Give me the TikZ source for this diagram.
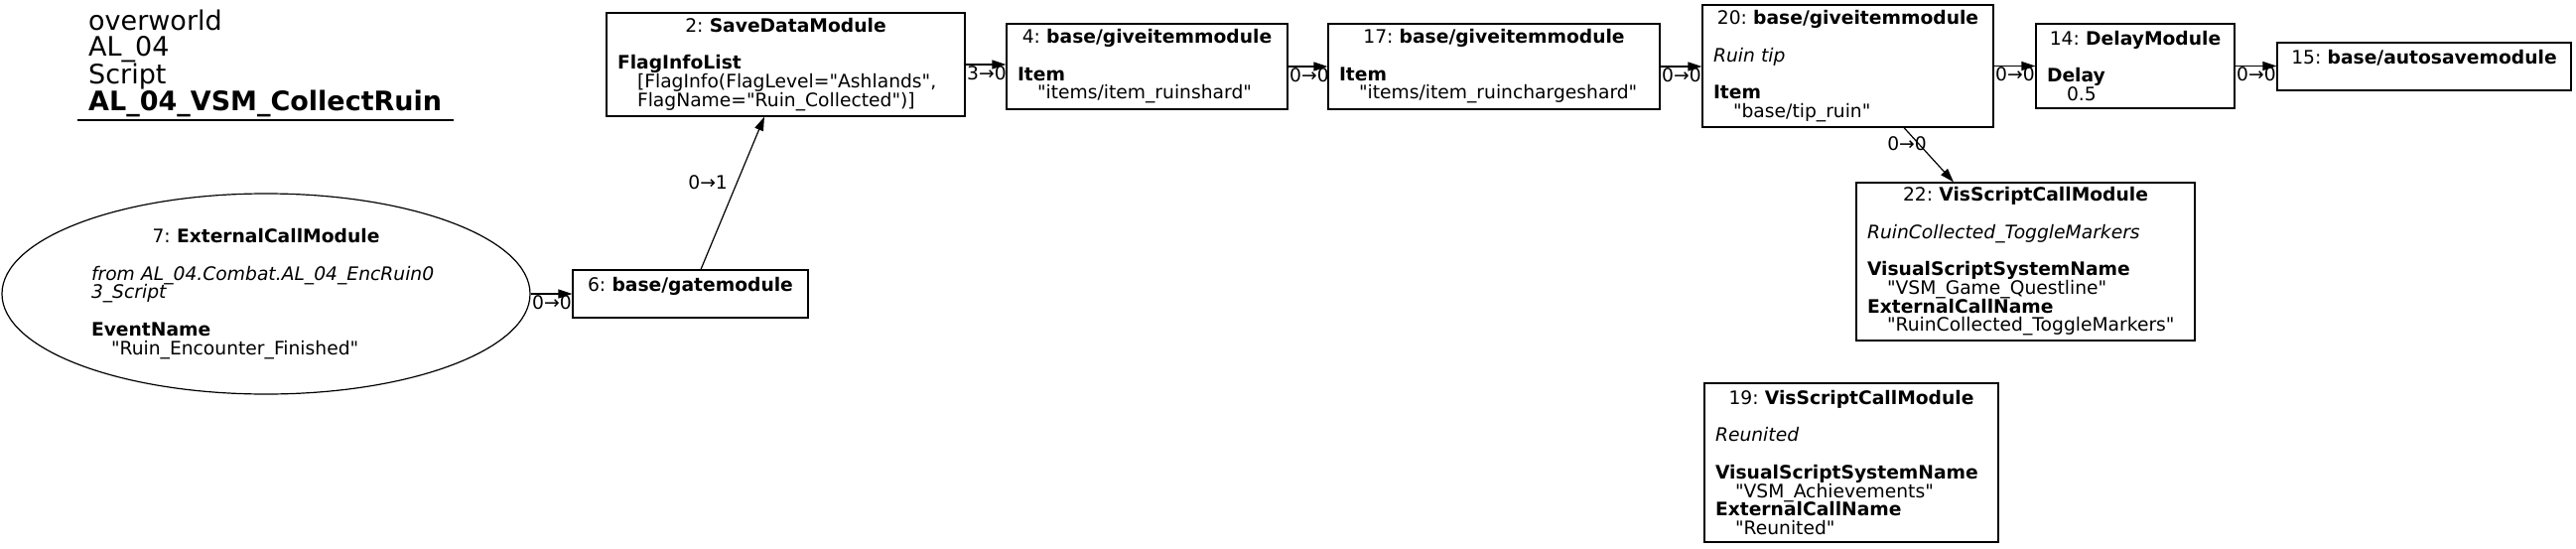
\documentclass[tikz,border=0pt]{standalone}
\usepackage{fontspec}
\setmainfont{DejaVu Sans}[Ligatures=TeXOff]
\usetikzlibrary{arrows.meta,shapes.geometric}
\frenchspacing
\newcommand{\nodefont}{\fontsize{18.7pt}{18.7pt}\selectfont\lineskiplimit=-100pt\lineskip=0pt}
\newcommand{\ttl}[2]{\hbox to \hsize{\hfil #1:\ \textbf{#2}\hfil}}
\newcommand{\ind}{\hspace*{20pt}}
\newcommand{\gap}{\\[18.7pt]}
\tikzset{
  x=1pt, y=-1pt,
  box/.style={draw, line width=1.2pt, rectangle, inner xsep=11pt, inner ysep=0pt, align=left, font=\nodefont},
  oval/.style={draw, line width=1.2pt, ellipse, inner sep=0pt, align=left, font=\nodefont},
  lbl/.style={inner sep=1pt, font=\nodefont},
  edge/.style={line width=1.2pt, -{Triangle[length=14pt,width=9pt]}},
}
\begin{document}
\begin{tikzpicture}
\useasboundingbox (0,0) rectangle (2595,552);

% title
\node[anchor=north west, inner sep=0pt, align=left, font=\fontsize{27pt}{26.7pt}\selectfont] (title) at (89,9.5)
  {overworld\\AL\_04\\Script\\\textbf{AL\_04\_VSM\_CollectRuin}};
\draw[line width=1.5pt] (78,121) -- (457,121);

% nodes
\node[oval, minimum width=532pt, minimum height=202pt, text width=352pt] (n7) at (268,296)
  {\ttl{7}{ExternalCallModule}\gap \textit{from AL\_04.Combat.AL\_04\_EncRuin0}\\ \textit{3\_Script}\gap \textbf{EventName}\\ \ind"Ruin\_Encounter\_Finished"};

\node[box, minimum width=237pt, minimum height=48pt, text width=215pt] (n6) at (695.5,296)
  {\ttl{6}{base/gatemodule}\\ \mbox{}};

\node[box, minimum width=361pt, minimum height=104pt, text width=339pt] (n2) at (791.5,65)
  {\ttl{2}{SaveDataModule}\gap \textbf{FlagInfoList}\\ \ind[FlagInfo(FlagLevel="Ashlands",\\ \ind FlagName="Ruin\_Collected")]};

\node[box, minimum width=283pt, minimum height=86pt, text width=261pt] (n4) at (1155.5,67)
  {\ttl{4}{base/giveitemmodule}\gap \textbf{Item}\\ \ind"items/item\_ruinshard"};

\node[box, minimum width=334pt, minimum height=86pt, text width=312pt] (n17) at (1505,67)
  {\ttl{17}{base/giveitemmodule}\gap \textbf{Item}\\ \ind"items/item\_ruinchargeshard"};

\node[box, minimum width=293pt, minimum height=123pt, text width=271pt] (n20) at (1861.5,66.5)
  {\ttl{20}{base/giveitemmodule}\gap \textit{Ruin tip}\gap \textbf{Item}\\ \ind"base/tip\_ruin"};

\node[box, minimum width=200pt, minimum height=85pt, text width=178pt] (n14) at (2151,66.5)
  {\ttl{14}{DelayModule}\gap \textbf{Delay}\\ \ind 0.5};

\node[box, minimum width=296pt, minimum height=48pt, text width=274pt] (n15) at (2442,67)
  {\ttl{15}{base/autosavemodule}\\ \mbox{}};

\node[box, minimum width=341pt, minimum height=159pt, text width=319pt] (n22) at (2040.5,263.5)
  {\ttl{22}{VisScriptCallModule}\gap \textit{RuinCollected\_ToggleMarkers}\gap \textbf{VisualScriptSystemName}\\ \ind"VSM\_Game\_Questline"\\ \textbf{ExternalCallName}\\ \ind"RuinCollected\_ToggleMarkers"};

\node[box, minimum width=296pt, minimum height=160pt, text width=274pt] (n19) at (1865,466)
  {\ttl{19}{VisScriptCallModule}\gap \textit{Reunited}\gap \textbf{VisualScriptSystemName}\\ \ind"VSM\_Achievements"\\ \textbf{ExternalCallName}\\ \ind"Reunited"};

% edges
\draw[edge] (n7.east) -- node[lbl, pos=0, anchor=north west] {0→0} (n6.west);
\draw[edge] ([xshift=10.5pt]n6.north) -- node[lbl, pos=0.57, anchor=east, xshift=-8pt] {0→1} ([xshift=-21.5pt]n2.south);
\draw[edge] (n2.east) -- node[lbl, pos=0, anchor=north west] {3→0} (n2.east -| n4.west);
\draw[edge] (n4.east) -- node[lbl, pos=0, anchor=north west] {0→0} (n4.east -| n17.west);
\draw[edge] (n17.east) -- node[lbl, pos=0, anchor=north west] {0→0} (n17.east -| n20.west);
\draw[edge] (n20.east) -- node[lbl, pos=0, anchor=north west] {0→0} (n20.east -| n14.west);
\draw[edge] (n14.east) -- node[lbl, pos=0, anchor=north west] {0→0} (n14.east -| n15.west);
\draw[edge] ([xshift=56.5pt]n20.south) -- node[lbl, pos=0.29, xshift=-11.5pt] {0→0} ([xshift=-72.5pt]n22.north);
\end{tikzpicture}
\end{document}
